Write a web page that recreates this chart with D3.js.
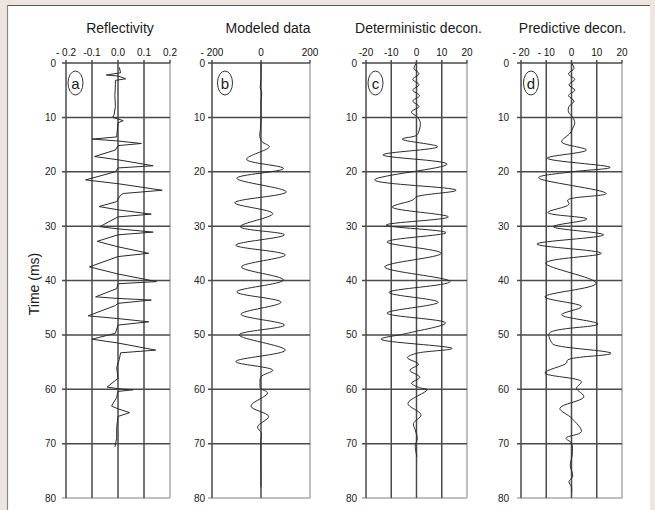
<!DOCTYPE html>
<html><head><meta charset="utf-8">
<script src="https://cdn.jsdelivr.net/npm/d3@7"></script>
<style>body{margin:0;background:#ece5e0;} text{font-family:"Liberation Sans",Arial,sans-serif;}</style>
</head><body>
<svg id="c" width="655" height="510"></svg>
<script>
// ---- data ----
const titles = ["Reflectivity", "Modeled data", "Deterministic decon.", "Predictive decon."];
const letters = ["a", "b", "c", "d"];
const timeTicks = [0, 10, 20, 30, 40, 50, 60, 70, 80];
const xTicksA = [-0.2, -0.1, 0, 0.1, 0.2];
const xLabelsA = ["- 0.2", "-0.1", "0.0", "0.1", "0.2"];
const xTicksB = [-200, 0, 200];
const xLabelsB = ["- 200", "0", "200"];
const xTicksC = [-20, -10, 0, 10, 20];
const xLabelsC = ["-20", "-10", "0", "10", "20"];
const xTicksD = [-20, -10, 0, 10, 20];
const xLabelsD = ["- 20", "- 10", "0", "10", "20"];

// reflectivity trace: [time ms, value]
const reflectivity = [[0.8,0.005],[1.8,0.01],[2.2,-0.045],[2.4,0.0],[2.9,0.03],[3.2,-0.01],[4,-0.01],[6,-0.012],[8,-0.01],[9.5,-0.015],[10,-0.02],[10.3,0.0],[10.6,0.02],[11,0.0],[12.5,-0.003],[13.6,-0.005],[14.0,-0.1],[14.3,-0.01],[14.8,0.09],[15.2,0.0],[16,-0.01],[17.2,-0.09],[17.8,0.0],[18.9,0.135],[19.3,0.0],[20,-0.01],[21.5,-0.125],[22.2,0.0],[23.4,0.17],[24.0,0.02],[24.3,0.01],[25.5,-0.005],[26.4,-0.073],[27,0.0],[27.8,0.128],[28.3,0.0],[30.1,-0.07],[30.5,0.0],[31.1,0.135],[31.6,0.0],[32.8,-0.08],[33.8,0.0],[35,0.118],[35.6,0.0],[37.5,-0.11],[38.8,0.0],[40.2,0.148],[40.6,0.0],[41.5,-0.005],[43,-0.086],[43.3,0.0],[43.6,0.128],[44.2,0.0],[44.6,-0.01],[46.5,-0.115],[47,0.0],[47.6,0.118],[48.2,0.0],[49.7,-0.01],[50.8,-0.1],[51.5,0.0],[52.8,0.145],[53.3,0.01],[54.5,0.005],[56,-0.005],[58,0.0],[59.6,-0.042],[59.9,0.0],[60.1,0.058],[60.4,0.0],[61.5,-0.005],[63.1,-0.025],[63.6,0.0],[64.3,0.045],[65,0.0],[67,-0.005],[69,-0.005],[70.6,-0.012]];

const modeled = [[0,0],[3,0],[4.5,-3],[5.5,3],[7,0],[10,0],[12,-2],[13.5,-5],[14.5,5],[15.4,34],[17.7,-59],[19.4,92],[21.2,-99],[23.7,103],[25.7,-107],[27.7,48],[30.1,-85],[31.6,96],[33.5,-103],[35.3,99],[37.5,-80],[39.9,92],[42.1,-99],[44.0,82],[46.2,-82],[48.2,96],[50,-89],[52.8,99],[54.9,-103],[56.5,48],[57.7,0],[59,-4],[59.8,-2],[60.7,27],[63.1,-41],[65,31],[66.9,-14],[68.1,2],[69,0],[78,0]];

const deterministic = [[0,0],[1,-1],[2,1],[3,-1.5],[4,1],[5,-1.5],[6,1.2],[7,-1.5],[8,1],[9,-2],[10,0.5],[11,1.5],[12.5,1],[13.3,0],[14.0,-5.7],[15.4,8.4],[16.9,-13.3],[18.6,12.1],[21.5,-16.6],[23.4,15.7],[24.6,0],[25.2,-1.5],[26.5,-9.6],[28.3,12.6],[29.8,-12],[31.2,11.7],[32.9,-11.7],[35,9.8],[37.5,-12.6],[40.2,13.3],[42.2,-10.9],[44.0,8.6],[46,-11.7],[47.8,11.5],[49.7,-3.6],[50.8,-14],[52.5,14.1],[53.4,0],[54.2,-3.6],[55.4,0.8],[56.5,-2.6],[57.8,1.3],[58.9,-2],[59.7,1.2],[60.1,4.2],[62.6,-3.4],[64.7,1.8],[66.3,-1.2],[67.5,-0.5],[69,0.3],[70.5,-0.5],[72.4,0.2]];

const predictive = [[0,0],[1,1],[2,-1.2],[3,1.3],[4,-1],[5,1.3],[6,-1.2],[7,1],[8,-1],[9,-1.2],[10,0.5],[11,1.3],[12,0.5],[12.9,-0.5],[14.5,-3.9],[16,5.9],[17.5,-9.6],[19.2,15.3],[20,0.5],[21.1,-13.1],[24,13.7],[25.2,-1.5],[26,-1],[27.5,-9.4],[28.7,6.1],[30.1,-7.2],[31.6,12.7],[33.3,-13.7],[35,11.8],[36.8,-10.2],[40.5,9.8],[43,-10.5],[44.8,4],[46.3,-3.9],[48,10.5],[49.7,-8.8],[51.3,-8],[51.8,-7],[53.4,15.7],[54.6,-1.5],[55.2,-2],[57,-10.5],[58.6,3.9],[59.8,2],[61.4,4.9],[63.5,-4.6],[65.3,0],[67.8,3.9],[69,-2.2],[69.9,0],[72,0.3],[74,-0.5],[76,0.5],[77,-1],[78,0],[79.1,0]];

// ---- layout ----
const svg = d3.select("#c");
svg.append("rect").attr("x",0).attr("y",0).attr("width",655).attr("height",510).attr("fill","#ece5e0");
svg.append("rect").attr("x",7).attr("y",5).attr("width",643).attr("height",520).attr("fill","#fff");
svg.append("line").attr("x1",7).attr("x2",650).attr("y1",5.5).attr("y2",5.5).attr("stroke","#555").attr("stroke-width",1.2);
svg.append("line").attr("x1",7.5).attr("x2",7.5).attr("y1",5).attr("y2",510).attr("stroke","#888").attr("stroke-width",1.2);

const y = d3.scaleLinear().domain([0,80]).range([63,498]);

const panels = [
  {ticks:xTicksA, labels:xLabelsA, domain:[-0.2,0.2], range:[66,170], data:reflectivity, curve:d3.curveLinear, grid:xTicksA, labOff:10, ex:75.5, tdx:2},
  {ticks:xTicksB, labels:xLabelsB, domain:[-200,200], range:[212,310], data:modeled, curve:d3.curveCatmullRom, grid:xTicksB, labOff:7, ex:225, tdx:7},
  {ticks:xTicksC, labels:xLabelsC, domain:[-20,20], range:[366,467], data:deterministic, curve:d3.curveCatmullRom, grid:xTicksC, labOff:9, ex:375.5, tdx:2},
  {ticks:xTicksD, labels:xLabelsD, domain:[-20,20], range:[521,622], data:predictive, curve:d3.curveCatmullRom, grid:xTicksD, labOff:12, ex:531, tdx:1}
];

panels.forEach((p,i)=>{
  const x = d3.scaleLinear().domain(p.domain).range(p.range);
  const g = svg.append("g");
  const x0 = p.range[0], x1 = p.range[1];
  g.append("line").attr("x1",x1).attr("x2",x1).attr("y1",y(0)).attr("y2",y(80)).attr("stroke","#aaa").attr("stroke-width",1.5);
  g.append("line").attr("x1",x0-4).attr("x2",x1).attr("y1",y(80)).attr("y2",y(80)).attr("stroke","#aaa").attr("stroke-width",1.5);
  g.selectAll(".hg").data(timeTicks.filter(t=>t<80)).enter().append("line")
    .attr("x1",x0-4).attr("x2",x1).attr("y1",d=>y(d)).attr("y2",d=>y(d))
    .attr("stroke","#4a4a4a").attr("stroke-width",1.5);
  g.selectAll(".vg").data(p.grid.filter(v=>v!==p.domain[1])).enter().append("line")
    .attr("x1",d=>x(d)).attr("x2",d=>x(d)).attr("y1",y(0)-3).attr("y2",y(80))
    .attr("stroke","#4a4a4a").attr("stroke-width",1.5);
  g.append("line").attr("x1",x1).attr("x2",x1).attr("y1",y(0)-3).attr("y2",y(0)).attr("stroke","#4a4a4a").attr("stroke-width",1.5);
  g.selectAll(".yl").data(timeTicks).enter().append("text")
    .attr("x",x0-p.labOff).attr("y",d=>y(d)+3.5).attr("text-anchor","end")
    .attr("font-size","10px").attr("fill","#222").text(d=>d);
  g.selectAll(".xl").data(p.ticks).enter().append("text")
    .attr("x",d=>x(d)).attr("y",55.5).attr("text-anchor","middle")
    .attr("font-size","10px").attr("fill","#111").text((d,j)=>p.labels[j]);
  g.append("text").attr("x",(x0+x1)/2+p.tdx).attr("y",33).attr("text-anchor","middle")
    .attr("font-size","14px").attr("fill","#1a1a1a").text(titles[i]);
  g.append("ellipse").attr("cx",p.ex).attr("cy",83).attr("rx",7.5).attr("ry",12)
    .attr("fill","#fff").attr("stroke","#333").attr("stroke-width",1);
  g.append("text").attr("x",p.ex).attr("y",88.5).attr("text-anchor","middle")
    .attr("font-size","15px").attr("fill","#1a1a1a").text(letters[i]);
  const line = d3.line().x(d=>x(d[1])).y(d=>y(d[0])).curve(p.curve);
  g.append("path").attr("d",line(p.data)).attr("fill","none").attr("stroke","#2a2a2a").attr("stroke-width",1);
});

svg.append("text").attr("transform","translate(39,284) rotate(-90)").attr("text-anchor","middle")
  .attr("font-size","14px").attr("fill","#1a1a1a").text("Time (ms)");
</script>
</body></html>
